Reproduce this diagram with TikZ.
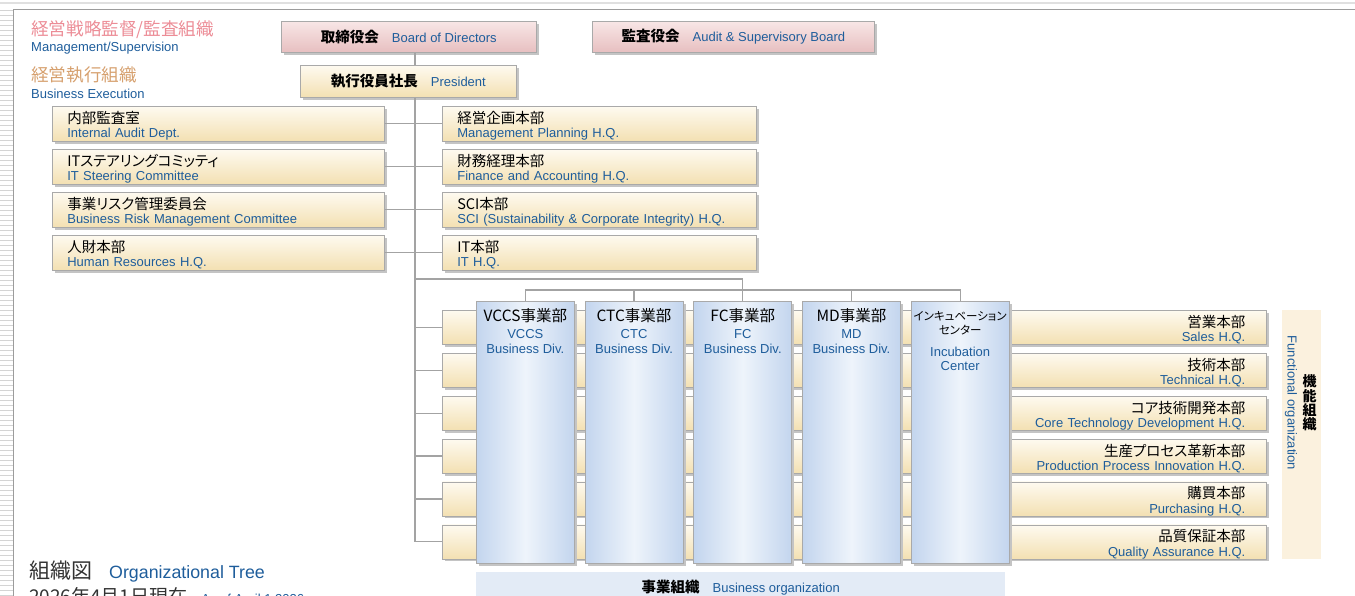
\documentclass[tikz,border=0pt]{standalone}
\usepackage{fontspec}
\setmainfont{Liberation Sans}
\newfontfamily\jpfont[RawFeature=+palt]{Noto Sans CJK JP}
\usetikzlibrary{positioning, shadows}

\definecolor{engblue}{HTML}{1E5D9B}
\definecolor{mgmtpink}{HTML}{EC8C96}
\definecolor{exectan}{HTML}{D6A06E}
\definecolor{linegrey}{HTML}{A3A3A3}
\definecolor{boxedge}{HTML}{A9A9A9}
\definecolor{shadowgrey}{HTML}{C4C4C4}
\definecolor{framegrey}{HTML}{9C9C9C}
\definecolor{creamtop}{HTML}{FEFAF0}
\definecolor{creambot}{HTML}{F3E0B2}
\definecolor{pinktop}{HTML}{F8E6E6}
\definecolor{pinkbot}{HTML}{E7BFC0}
\definecolor{divedge}{HTML}{C3D5EE}
\definecolor{divmid}{HTML}{EEF4FB}
\definecolor{bandblue}{HTML}{E3EBF6}
\definecolor{funcband}{HTML}{FBF1DE}

\newcommand{\jpline}[1]{{\color{black}\jpfont\fontsize{14.5}{14.5}\selectfont #1}}
\newcommand{\jpbold}[1]{{\color{black}\jpfont\bfseries\fontsize{14.5}{14.5}\selectfont #1}}
\newcommand{\jpdiv}[1]{{\color{black}\jpfont\fontsize{15.5}{15.5}\selectfont #1}}
\newcommand{\jpsmall}[1]{{\color{black}\jpfont\fontsize{11.5}{11.5}\selectfont #1}}

\begin{document}
\begin{tikzpicture}[
    x=1pt, y=-1pt,
    orgbox/.style={
      draw=boxedge, line width=0.7pt, inner ysep=0pt,
      drop shadow={shadow xshift=2.5pt, shadow yshift=-2.5pt, fill=shadowgrey, opacity=1},
    },
    cream/.style={top color=creamtop, bottom color=creambot},
    headbox/.style={
      orgbox, top color=pinktop, bottom color=pinkbot,
      minimum height=31pt, text=engblue, font=\fontsize{13}{13}\selectfont,
    },
    staff/.style={
      orgbox, cream, text width=302pt, inner xsep=15pt, align=left,
      text height=17pt, text depth=18pt,
      text=engblue, font=\fontsize{13}{14.5}\selectfont,
    },
    func/.style={
      orgbox, cream, text width=782pt, inner xsep=21pt, align=right,
      text height=17pt, text depth=17pt,
      text=engblue, font=\fontsize{13}{14.5}\selectfont,
    },
    divbox/.style={
      orgbox, left color=divedge, right color=divedge, middle color=divmid,
      minimum width=98pt, minimum height=262.6pt, inner sep=0pt,
    },
    divlabel/.style={align=center, inner sep=0pt, text=engblue, font=\fontsize{13}{14.5}\selectfont},
    conn/.style={draw=linegrey, line width=1.2pt},
    stripe/.style={draw=black!17, line width=0.9pt},
  ]
  \useasboundingbox (0,0) rectangle (1355,595);
  \clip (0,0) rectangle (1355,595);

  % page edge
  \foreach \y in {10,15,...,595}
    \draw[stripe] (0,\y) -- (12.5,\y);
  \draw[draw=black!12, line width=2pt] (0,3.3) -- (1355,3.3);
  \draw[draw=framegrey, line width=1pt] (13,600) |- (1360,9);

  % legend
  \node[anchor=west, inner sep=0pt, text=mgmtpink, font=\jpfont\fontsize{17.6}{17.6}\selectfont]
    (mgmt-jp) at (31,30) {経営戦略監督/監査組織};
  \node[anchor=west, inner sep=0pt, text=engblue, font=\fontsize{13}{13}\selectfont]
    (mgmt-en) at (31,48.5) {Management/Supervision};
  \node[anchor=west, inner sep=0pt, text=exectan, font=\jpfont\fontsize{17.6}{17.6}\selectfont]
    (exec-jp) at (31,75) {経営執行組織};
  \node[anchor=west, inner sep=0pt, text=engblue, font=\fontsize{13}{13}\selectfont]
    (exec-en) at (31,93.5) {Business Execution};

  % top management
  \node[headbox, minimum width=255pt, anchor=north west] (board) at (281,21)
    {\jpbold{取締役会}\hspace{13pt}Board of Directors};
  \node[headbox, minimum width=282pt, anchor=north west] (auditboard) at (592,21)
    {\jpbold{監査役会}\hspace{13pt}Audit \& Supervisory Board};
  \node[headbox, cream, minimum width=216pt, minimum height=32pt, anchor=north west] (pres) at (300,65)
    {\jpbold{執行役員社長}\hspace{13pt}President};

  % staff, left
  \node[staff, anchor=north west] (intaudit) at (52,106)
    {\jpline{内部監査室}\\Internal Audit Dept.};
  \node[staff, below=7.2pt of intaudit] (itsteer)
    {\jpline{ITステアリングコミッティ}\\IT Steering Committee};
  \node[staff, below=7.2pt of itsteer] (bizrisk)
    {\jpline{事業リスク管理委員会}\\Business Risk Management Committee};
  \node[staff, below=7.2pt of bizrisk] (hr)
    {\jpline{人財本部}\\Human Resources H.Q.};

  % staff, right
  \node[staff, text width=284pt, anchor=north west] (mplan) at (442,106)
    {\jpline{経営企画本部}\\Management Planning H.Q.};
  \node[staff, text width=284pt, below=7.2pt of mplan] (finance)
    {\jpline{財務経理本部}\\Finance and Accounting H.Q.};
  \node[staff, text width=284pt, below=7.2pt of finance] (sci)
    {\jpline{SCI本部}\\SCI (Sustainability \& Corporate Integrity) H.Q.};
  \node[staff, text width=284pt, below=7.2pt of sci] (ithq)
    {\jpline{IT本部}\\IT H.Q.};

  % functional organization
  \node[func, anchor=north west] (sales) at (442,310)
    {\jpline{営業本部}\\Sales H.Q.};
  \node[func, below=8.2pt of sales] (tech)
    {\jpline{技術本部}\\Technical H.Q.};
  \node[func, below=8.2pt of tech] (core)
    {\jpline{コア技術開発本部}\\Core Technology Development H.Q.};
  \node[func, below=8.2pt of core] (prod)
    {\jpline{生産プロセス革新本部}\\Production Process Innovation H.Q.};
  \node[func, below=8.2pt of prod] (purch)
    {\jpline{購買本部}\\Purchasing H.Q.};
  \node[func, below=8.2pt of purch] (qa)
    {\jpline{品質保証本部}\\Quality Assurance H.Q.};

  \node[fill=funcband, inner sep=0pt, minimum width=39.5pt, minimum height=249pt, anchor=north west]
    (funcorg) at (1281.5,310) {};
  \node[rotate=-90, inner sep=0pt, text=engblue, font=\fontsize{13}{13}\selectfont]
    (funcorg-en) at (1291,403) {Functional organization};
  \node[align=center, inner sep=0pt, font=\jpfont\bfseries\fontsize{14}{14.4}\selectfont]
    (funcorg-jp) at (1309.5,403) {機\\能\\組\\織};

  % business divisions
  \node[divbox, anchor=north west] (vccs) at (476,300.7) {};
  \node[divbox, right=10pt of vccs] (ctc) {};
  \node[divbox, right=10pt of ctc] (fcdiv) {};
  \node[divbox, right=10pt of fcdiv] (mddiv) {};
  \node[divbox, right=10pt of mddiv] (incub) {};

  \node[divlabel, below=8pt of vccs.north] (vccs-t)
    {\jpdiv{VCCS事業部}\\[2.5pt]VCCS\\Business Div.};
  \node[divlabel, below=8pt of ctc.north] (ctc-t)
    {\jpdiv{CTC事業部}\\[2.5pt]CTC\\Business Div.};
  \node[divlabel, below=8pt of fcdiv.north] (fcdiv-t)
    {\jpdiv{FC事業部}\\[2.5pt]FC\\Business Div.};
  \node[divlabel, below=8pt of mddiv.north] (mddiv-t)
    {\jpdiv{MD事業部}\\[2.5pt]MD\\Business Div.};
  \node[divlabel, below=10pt of incub.north] (incub-t)
    {\jpsmall{インキュベーション}\\\jpsmall{センター}\\[7pt]Incubation\\Center};

  \node[fill=bandblue, inner sep=0pt, minimum width=529pt, minimum height=31pt, anchor=north west,
    text=engblue, font=\fontsize{13}{13}\selectfont] (bizorg) at (476,571.7)
    {\jpbold{事業組織}\hspace{13pt}Business organization};

  % connectors
  \coordinate (trunk) at (415,0);
  \coordinate (feed) at (0,279);
  \coordinate (bus) at (0,290);
  \draw[conn] (board.south -| trunk) -- (pres.north -| trunk);
  \draw[conn] (pres.south -| trunk) -- (trunk |- qa.west);
  \foreach \s in {intaudit, itsteer, bizrisk, hr}
    \draw[conn] (\s.east) -- (\s.east -| trunk);
  \foreach \s in {mplan, finance, sci, ithq, sales, tech, core, prod, purch, qa}
    \draw[conn] (trunk |- \s.west) -- (\s.west);
  \draw[conn] (trunk |- feed) -| (fcdiv.north);
  \draw[conn] (vccs.north) |- (bus -| incub.north) -- (incub.north);
  \foreach \d in {ctc, mddiv}
    \draw[conn] (\d.north) -- (\d.north |- bus);

  % title
  \node[anchor=west, inner sep=0pt] (orgtree) at (29,572)
    {{\color{black!80}\jpfont\fontsize{21}{21}\selectfont 組織図}\hspace{17pt}{\color{engblue}\fontsize{17.8}{17.8}\selectfont Organizational Tree}};
  \node[anchor=west, inner sep=0pt] (asof) at (29,597)
    {{\color{black!80}\jpfont\fontsize{19}{19}\selectfont 2026年4月1日現在}\hspace{14pt}{\color{engblue}\fontsize{13}{13}\selectfont As of April 1 2026}};
\end{tikzpicture}
\end{document}
